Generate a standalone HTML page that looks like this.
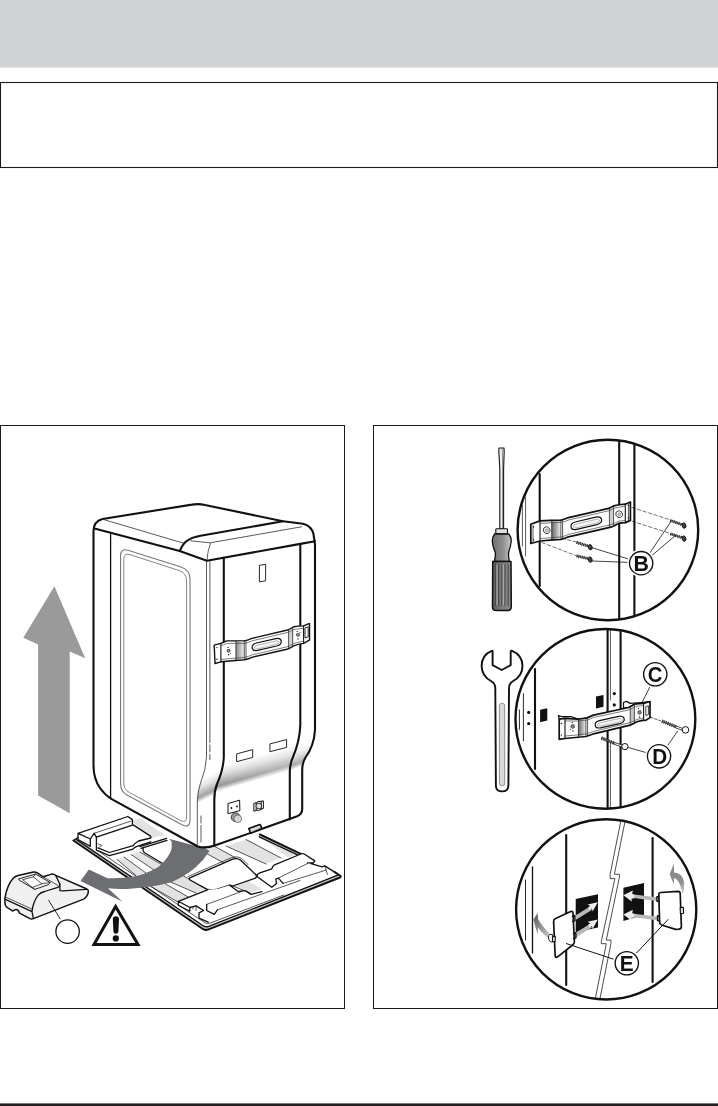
<!DOCTYPE html>
<html>
<head>
<meta charset="utf-8">
<title>Installation</title>
<style>
html,body{margin:0;padding:0;background:#fff;}
body{width:718px;height:1106px;position:relative;overflow:hidden;font-family:"Liberation Sans",sans-serif;}
svg{position:absolute;left:0;top:0;display:block;}
.k{stroke:#111;fill:none;stroke-linecap:round;stroke-linejoin:round;}
.kf{stroke:#111;stroke-linecap:round;stroke-linejoin:round;}
.t2{stroke-width:2.1;}
.t1{stroke-width:1.3;}
.t0{stroke-width:0.7;}
.lbl{font-family:"Liberation Sans",sans-serif;font-weight:bold;fill:#111;text-anchor:start;}
</style>
</head>
<body>
<svg width="718" height="1106" viewBox="0 0 718 1106">
<defs>
<linearGradient id="gsh" x1="0" y1="0" x2="1" y2="0">
<stop offset="0" stop-color="#555"/><stop offset="1" stop-color="#eee"/>
</linearGradient>
</defs>
<!-- header band -->
<rect x="0" y="0" width="718" height="67.5" fill="#d1d2d4"/>
<!-- notice box -->
<rect x="0.5" y="82.5" width="717" height="85" fill="#fff" stroke="#1a1a1a" stroke-width="1.1"/>
<!-- figure frames -->
<rect x="0.5" y="425.5" width="344" height="583" fill="#fff" stroke="#1a1a1a" stroke-width="1"/>
<rect x="373.5" y="425.5" width="344" height="583" fill="#fff" stroke="#1a1a1a" stroke-width="1"/>
<!-- footer rule -->
<rect x="0" y="1103.4" width="718" height="2.6" fill="#231f20"/>

<!--LEFT-FIGURE-->
<g id="leftfig">
<!-- ===== base tray ===== -->
<g id="tray">
<!-- tray floor -->
<path d="M73.4,840.5 L128,817 L259.9,834.5 L340.4,875.7 L340.4,878 L209,930 L204,929 Z" fill="#fff" stroke="none"/>
<!-- light stripes -->
<g fill="#e2e2e2" stroke="none">
<path d="M226,846 L246,839.5 L281,858 L266,864 Z"/>
<path d="M259,835.6 L267,837.6 L298,854 L288,857.5 Z"/>
<path d="M200,850 L214,846 L236,858 L224,863 Z"/>
<path d="M232.7,886 L247.5,880.8 L262,889 L250,893 Z"/>
<path d="M131,821 L140,818.5 L165,835 L152,838 Z"/>
<path d="M117,859.5 L124,857 L146,873 L136,875.5 Z"/>
<path d="M131,854.5 L140,852 L166,867 L154,870 Z"/>
<path d="M150,886 L162,882 L190,898 L178,902 Z"/>
<path d="M166,880 L182,875 L196,883 L206,889 L196,893 Z"/>
</g>
<!-- stripe edge lines -->
<g class="k t0">
<path d="M226,846 L266,864 M246,839.5 L281,858"/>
<path d="M200,850 L224,863 M214,846 L236,858"/>
<path d="M117,859.5 L136,875.5 M124,857 L146,873 M131,854.5 L154,870 M140,852 L166,867"/>
<path d="M150,886 L178,902 M162,882 L190,898 M166,880 L196,893 M182,875 L206,889"/>
<path d="M232.7,886 L250,893"/>
</g>
<!-- far edge (double) -->
<path class="k t2" d="M259.9,834.5 L301.3,854.1"/>
<path class="k t1" d="M259.2,836.8 L298.2,855.2"/>
<!-- left rail + left pad edge -->
<path class="k t1" d="M140,846.6 L166.5,838.4 M141,848.4 L167,840.4"/>
<path class="k t1" d="M143.1,848 L143.1,850.5 Q143.5,852 145,853 L166,865.5"/>
<!-- centre pad -->
<path d="M189.8,877.8 L232.7,859.2 Q237,857.6 240.4,860 L255.7,874.5 Q257.2,876.5 255.5,878.2 L232.7,886 L229.7,885.2 L217.4,889.1 Q211.5,890.6 206.7,889.1 L191.4,880.8 Q188.3,879.2 189.8,877.8 Z" fill="#fff" class="kf t1"/>
<path class="k t0" d="M188,876.6 L231.5,857.6 Q237,855.6 241.5,858.5 L248,864.5"/>
<!-- right block -->
<path d="M257.3,874.8 Q258,873.4 259.9,872.8 L271.8,868.8 Q272.6,866 274.5,864.8 L300.9,854 Q302.6,853.4 304.2,854 L314.8,860.9 L313.5,862.9 L307.6,862.9 L322.1,866.8 L324.8,865.9 L334.7,872.1 L339.6,875.3 L283.7,895 L271.8,887.3 L257.3,876.8 Z" fill="#fff" stroke="none"/>
<path class="k t1" d="M257.3,874.8 Q258,873.4 259.9,872.8 L271.8,868.8 Q272.6,866 274.5,864.8 L300.9,854 Q302.6,853.4 304.2,854 L314.8,860.9 L313.5,862.9 L307.6,862.9 M311,863.6 L322.1,866.8 L324.8,865.9 L334.7,872.1"/>
<path class="k t1" d="M257.3,874.8 L257.3,876.8 L271.8,887.3 L276.5,883.4 L275.8,879.1 L278.4,878.1 L283.1,883.4"/>
<path class="k t0" d="M278.4,878.1 L307.6,863.5 M283.1,883.4 L326.1,870.1 L324.8,865.9 M326.1,870.1 L327.4,874.6"/>
<!-- front block -->
<path d="M178.3,901.3 L207.5,889.8 L217.4,889.1 L229.7,885.2 L238.1,891.4 L245,890.6 L251.1,894.4 L266,890.5 L300,879 L325,872 L330,878 L208.2,923 L199,918.2 L199,912.8 L189.8,911.3 L178.3,905.2 Z" fill="#fff" stroke="none"/>
<path class="k t1" d="M178.3,901.3 L207.5,889.8 M229.7,885.2 L238.1,891.4 L245,890.6 L251.1,894.4 L262,891.6"/>
<path class="k t1" d="M178.3,901.3 L178.3,905.2 L189.8,911.3 L189.8,907.5 Z M189.8,907.5 L196,905.9 L203.6,910.5 L199,912.8 L199,918.2 L208.2,922.2"/>
<path class="k t1" d="M206.7,904.4 L206.7,910.5 L214.3,914.3 L217.4,909.8"/>
<path class="k t0" d="M206.7,904.4 L241.9,891.4 M217.4,909.8 L300,880.5 M193,909 L193,906.7 M196,910.5 L196,906"/>
<!-- rim -->
<path d="M73.4,840.5 L203.2,929.2 Q205.8,930.6 208.6,929.4 L340,877.5 L338.4,874.9 L208.8,926.4 Q206.2,927.4 203.8,926.2 L76.5,839.6 Z" fill="#c6c6c6" stroke="none"/>
<path class="k t2" d="M73.4,840.5 L203.2,929.2 Q205.8,930.6 208.6,929.4 L340,877.5 Q341.5,876.5 340,875.5 L334.7,872.1" style="stroke-width:1.9"/>
<path class="k t1" d="M76.5,839.6 L203.8,926.2 Q206.2,927.4 208.8,926.4 L338.4,874.9"/>
<path class="k t0" d="M82,840 L205.1,922.9 Q207.6,924 210.2,923.1 L283.7,895"/>
<!-- left block -->
<path d="M78,833.3 L127.8,816.5 L132.4,819.6 L132.4,824.2 L133.2,824.9 L150.8,836.4 L150.8,841.8 L137,846.4 L132.4,849.4 L109.4,855.6 L96.4,850.2 L90.3,846.4 L78,839.5 Z" fill="#fff" stroke="none"/>
<path class="k t1" d="M78,833.3 L127.8,816.5 L132.4,819.6 L132.4,824.2 M78,833.3 L78,839.5 L90.3,846.4 L90.3,839 Z M90.3,839 L94.1,833.3 L96.4,837.2 L96.4,850.2 L109.4,855.6 L132.4,849.4 Q135,847 137,846.4 L150.8,841.8"/>
<path class="k t1" d="M96.4,837.2 L133.2,824.9 L150.8,836.4 L150.8,838 L138.5,841 Q135,843 133.2,845.6 L109.4,852.5 L97.9,847.9"/>
<path class="k t0" d="M94.1,833.3 L130.9,821.1 M98,843.9 L101.8,845.5 L99.5,847"/>
<path class="k t1" d="M73.4,840.5 L78,837.5"/>
</g>

<!-- ===== curved arrow ===== -->
<path d="M169,838.8 L171.5,841.3 Q172.5,848 170,853 Q165,862 157.5,867.5 Q147,873.5 135,876.3 Q121,878.8 107.5,878.2 L88.8,869.6 L80.5,880.9 L122.6,901.8 L108,888.2 Q120,889.6 133,888.4 Q153,887 170.5,882.5 Q184,877 195.5,867.5 Q203.5,860.5 209.5,851 L205.3,848.3 L197.8,846.5 Z" fill="#6d6e71" stroke="none"/>

<!-- ===== machine ===== -->
<g id="machine">
<!-- body fill -->
<path d="M93.5,765 L93.5,531 Q93.5,521.5 102.5,519 L192,504.6 Q198.5,503.4 205,505 L283,521.3 L303,523.8 Q311.5,526 313.5,534 L315,545 L315,730 Q314,746 305.5,757.5 Q302.2,763 302.2,770 L302.2,809 Q302.2,814.2 297.2,816.2 L260,829.6 L215.4,845.3 Q206,848.8 197.8,846.5 L111.3,798.9 Q105,795 100,788 Q93.5,779 93.5,765 Z" fill="#fff" stroke="none"/>
<!-- shading on curved lower back -->
<defs>
<linearGradient id="gm1" gradientUnits="userSpaceOnUse" x1="217.6" y1="767" x2="224.2" y2="789.8">
<stop offset="0" stop-color="#fff"/><stop offset="0.35" stop-color="#dcdcdc"/><stop offset="0.78" stop-color="#979797"/><stop offset="1" stop-color="#fff"/>
</linearGradient>
<linearGradient id="gm2" gradientUnits="userSpaceOnUse" x1="205.5" y1="776.6" x2="214.4" y2="795.2">
<stop offset="0" stop-color="#fff"/><stop offset="0.4" stop-color="#dedede"/><stop offset="0.78" stop-color="#a2a2a2"/><stop offset="1" stop-color="#fff"/>
</linearGradient>
<linearGradient id="gm3" gradientUnits="userSpaceOnUse" x1="293.1" y1="748.9" x2="299.9" y2="767.2">
<stop offset="0" stop-color="#fff"/><stop offset="0.4" stop-color="#e0e0e0"/><stop offset="0.78" stop-color="#a8a8a8"/><stop offset="1" stop-color="#fff"/>
</linearGradient>
<linearGradient id="gmf" gradientUnits="userSpaceOnUse" x1="224" y1="0" x2="292" y2="0">
<stop offset="0" stop-color="#fff" stop-opacity="0"/><stop offset="1" stop-color="#fff" stop-opacity="0.3"/>
</linearGradient>
</defs>
<path d="M223.8,735 L223.8,757 Q223.3,770 217,784 Q214.3,791 214.3,800 L214.3,806 L289.8,790 L289.8,772 Q289.8,764 293,757 Q299.8,741 300.3,725 Z" fill="url(#gm1)" stroke="none"/>
<path d="M223.8,735 L223.8,757 Q223.3,770 217,784 Q214.3,791 214.3,800 L214.3,806 L289.8,790 L289.8,772 Q289.8,764 293,757 Q299.8,741 300.3,725 Z" fill="url(#gmf)" stroke="none"/>
<path d="M206.5,745 L206.5,757 Q206,770 200.5,783 Q197.3,792 197.3,803 L197.3,812 L214.3,812 L214.3,800 Q214.3,791 217,784 Q223.3,770 223.8,757 L223.8,745 Z" fill="url(#gm2)" stroke="none"/>
<path d="M300.3,715 L300.3,725 Q299.8,741 293,757 Q289.8,764 289.8,772 L289.8,790 L301.6,788 L301.6,770 Q301.6,763 305.5,757.5 Q314,746 315,730 L315,715 Z" fill="url(#gm3)" stroke="none"/>
<!-- outline -->
<path class="k t2" d="M93.5,765 L93.5,531 Q93.5,521.5 102.5,519 L192,504.6 Q198.5,503.4 205,505 L283,521.3 L303,523.8 Q311.5,526 313.5,534 L315,545 L315,730 Q314,746 305.5,757.5 Q302.2,763 302.2,770 L302.2,809 Q302.2,814.2 297.2,816.2 L260,829.6 L215.4,845.3 Q206,848.8 197.8,846.5 L111.3,798.9 Q105,795 100,788 Q93.5,779 93.5,765 Z"/>
<!-- lid front edge -->
<path class="k t2" d="M94.5,528.5 L179.7,551.1 L206.9,560.8 L300.4,543.9 L315,541.2"/>
<!-- lid bump -->
<path class="k t2" d="M179.7,551.1 Q182.5,544.5 186,541.5 Q191.5,537.3 200.6,535.8 L283,521.3"/>
<!-- thin top lines -->
<path class="k t0" d="M104.5,519.8 L184,543.3 M190.9,540.9 L210.4,542.8 L301.6,526.8 M210.4,543.4 Q207.6,551 206.9,560.4"/>
<!-- vertical edges -->
<path class="k t1" d="M110.6,532.5 L110.6,798.4"/>
<path class="k t0" d="M206.5,561 L206.5,757 Q206,770 200.5,783 Q197.3,792 197.3,803 L197.3,846"/>
<path class="k t0" d="M209.9,561.5 L209.9,762" stroke-dasharray="181 2.5 7 2.5 5 2.5 100"/>
<path class="k t0" d="M201,816 L201,842" stroke-dasharray="7 2.5 40"/>
<path class="k t2" d="M223.8,557.8 L223.8,757 Q223.3,770 217,784 Q214.3,791 214.3,800 L214.3,845.5"/>
<path class="k t2" d="M300.3,544 L300.3,725 Q299.8,741 293,757 Q289.8,764 289.8,772 L289.8,819.5"/>
<!-- door panel -->
<path d="M120.6,556 Q120.6,548 128,550.3 L181,567 Q190,570 190,579 L190,820 Q190,828.5 182.5,825 L127,795 Q120.6,791.5 120.6,784 Z" fill="none" stroke="#777" stroke-width="1.1"/>
<path d="M123.8,559.5 Q123.8,552.5 130,554.6 L179,570.5 Q186.6,573 186.6,581 L186.6,817 Q186.6,823.5 181,820.8 L129.5,792.5 Q123.8,789.5 123.8,783 Z" fill="none" stroke="#777" stroke-width="0.9"/>
<!-- small slot top -->
<path class="k t0" d="M259.8,565.3 L265.6,564.3 L265.6,580.8 L259.8,581.8 Z" style="stroke-width:0.9"/>
<!-- two small rects -->
<path class="k t0" d="M237,753.8 L252.7,749.6 L252.7,757.4 L237,761.6 Z M270.3,743.8 L286.6,739.6 L286.6,747.4 L270.3,751.6 Z" style="stroke-width:0.9"/>
<!-- connector box -->
<path class="k t0" d="M228.4,803.4 L239.6,800.2 L239.9,810.6 L228.4,813.6 Z" style="stroke-width:1"/>
<circle cx="231.4" cy="808" r="0.9" fill="#111"/><circle cx="237" cy="806.4" r="0.9" fill="#111"/>
<!-- knob -->
<circle cx="235.6" cy="817.2" r="4.4" fill="#9a9a9a" stroke="#333" stroke-width="0.9"/>
<circle cx="237.8" cy="818.8" r="3.8" fill="#d6d6d6" stroke="#555" stroke-width="0.7"/>
<!-- valve -->
<path class="k t0" d="M254.2,803.4 L256.2,802.6 L256.2,810.4 L254.2,811.2 Z M261.6,801.4 L263.4,800.8 L263.4,808.4 L261.6,809 Z M256.2,803 L258,801.6 L261.6,801.2 M256.2,810 L258.4,810.6 L261.6,809.2" style="stroke-width:1"/>
<circle cx="258.8" cy="806" r="2.9" fill="#cfcfcf" stroke="#222" stroke-width="0.9"/><circle cx="259.2" cy="806.2" r="1.5" fill="#e8e8e8"/>
<!-- foot -->
<path d="M248.8,828.6 L259.7,824.6 Q261.3,825 261.5,828.6 L250.7,833.2 Z" fill="#d9d9d9" class="kf t1" style="stroke-width:1.6"/>
<!-- bracket -->
<g id="brk1">
<path d="M214.2,645.1 L220.9,643.4 L226.7,640.9 L244.3,640.9 Q248.4,640 251.8,638.4 L288.6,629.7 Q291.4,628.4 293.6,626.7 Q298,626 303.6,625.9 L309.5,623.4 L309.5,640.1 L303.6,643.4 Q298,644.2 293.6,645.9 Q290.4,648 286.9,649.3 L252.6,657.1 Q248.6,659 244.3,659.8 L220.9,661.8 L215,663.5 Z" fill="#fff" class="kf t2" style="stroke-width:1.4"/>
<path d="M235.9,641.6 L244.3,641.6 L244.3,659 L235.9,659.8 Z" fill="url(#gsh)" stroke="none" opacity="0.7"/>
<path d="M288.6,630.6 L292.7,628.6 L292.7,645.8 L288.6,647.8 Z" fill="#d2d2d2" stroke="none"/>
<path class="k t1" d="M220.9,643.4 L220.9,661.8 M303.6,625.9 L303.6,643.4" style="stroke-width:1.1"/>
<path class="k t0" d="M235.9,641 L235.9,660.4 M244.3,640.9 L244.3,659.8 M246,640.6 L246,659.4 M288.6,629.7 L288.6,649 M292.7,627.4 L292.7,646.6"/>
<path class="k t0" d="M220.9,645.8 L226.7,643.4 L244.3,643.4 Q248.4,642.6 251.8,640.9 L288.6,632.2 Q291.6,631 293.6,629.3 L303.6,628.4 M220.9,659.4 L244.3,657.4 Q248.6,656.6 252.6,654.7 L286.9,646.9 Q290.4,645.6 293.6,643.5 L303.6,641" style="stroke:#444"/>
<path d="M252.4,648.8 Q251.2,644.4 256.4,643 L275.8,638.6 Q280.6,637.8 281.2,641 Q281.8,644.6 276.8,646 L257.4,650.4 Q253.2,651.2 252.4,648.8 Z" fill="#fff" class="kf t1" style="stroke-width:1.2"/>
<path d="M254.6,648.2 Q254,646 257.2,645.2 L275.8,640.9 Q279,640.3 279.4,642 Q279.6,643.8 276.2,644.6 L257.6,648.9 Q255.2,649.3 254.6,648.2 Z" fill="#f2f2f2" stroke="#888" stroke-width="0.6"/>
<path d="M305.4,627.8 L308.2,626.8 L308.2,636.8 L305.4,637.8 Z" fill="#fff" class="kf t0" style="stroke-width:0.9"/>
<circle cx="228" cy="647.4" r="0.7" fill="#111"/><path d="M227.2,649.6 L229.8,649.2 L230.2,651.4 L228.4,652.4 L227,651.4 Z" fill="#888" stroke="#111" stroke-width="0.5"/><circle cx="228.6" cy="654.8" r="0.7" fill="#111"/><circle cx="230.6" cy="653.4" r="0.5" fill="#111"/>
<circle cx="297.2" cy="631.6" r="0.7" fill="#111"/><path d="M296.6,633.8 L299.2,633.4 L299.6,635.6 L297.8,636.6 L296.4,635.6 Z" fill="#888" stroke="#111" stroke-width="0.5"/><circle cx="298" cy="639" r="0.7" fill="#111"/><circle cx="300" cy="632.6" r="0.5" fill="#111"/>
<circle cx="217" cy="647.6" r="0.7" fill="#111"/><circle cx="217" cy="659.3" r="0.7" fill="#111"/>
</g>
</g>

<!-- ===== up arrow ===== -->
<path d="M54.4,586.3 L23.3,637.7 L38.1,644.5 L38.1,795.6 L69.7,813.2 L69.7,651.5 L85.2,658.2 Z" fill="#9a9a9a"/>

<!-- ===== small part A ===== -->
<g id="partA">
<path d="M4.9,898.4 Q6,891 8.4,885.9 Q10.5,881 13.2,878.2 Q15.3,876 18.1,875.4 L33.4,872 Q35.5,871.8 36.9,872.7 L43.2,876.8 L51.5,874.1 Q53.6,873.8 55.7,875.4 L86.4,888.7 Q88.6,889.6 88.4,891.4 Q88.2,893.6 87.2,895.4 Q85.8,897.8 83.6,899.1 L33.4,918.6 Q31.4,919.2 29.9,918.6 L19.5,913.1 L18.1,910.3 Q16.6,909.2 15.3,909.6 L12.5,911 L6.3,906.8 Q5,905.2 4.9,902.6 Z" fill="#f0f0f0" class="kf t1" style="stroke-width:1.5"/>
<path class="k t1" d="M4.9,899.1 L32,911.7 L33.4,918.6 M32,911.7 Q32.6,906.4 34.1,902.6 Q35.8,898 38.3,894.9 Q41,892.4 44.6,891.5 L57.8,887.3 Q59.7,886.4 59.9,884.2 L59.9,890.6 L62.7,890.8 L86.4,889.3"/>
<path class="k t1" d="M55.7,875.4 L59.9,884.2"/>
<path class="k t0" d="M6.3,897.4 L32.7,909.4 M43.2,876.8 L57.8,885.4"/>
<path d="M18.8,878.9 L35.5,874.1 L50.1,882.4 L48.7,884.5 L34.8,889.4 L19.5,880.3 Z" fill="#f6f6f6" class="kf t0" style="stroke-width:0.9"/>
<path d="M23,879.6 L33.4,876.8 L41.8,883.8 L32.7,887.3 Z" fill="#fafafa" class="kf t0"/>
<path class="k t0" d="M35.5,874.1 L33.4,876.8 M50.1,882.4 L41.8,883.8 M34.8,889.4 L32.7,887.3"/>
</g>
<path class="k t0" d="M48.7,900.5 L60.2,918.8" style="stroke-width:0.9"/>
<circle cx="67.6" cy="931.6" r="11.7" fill="#fff" stroke="#111" stroke-width="1.3"/>

<!-- ===== warning triangle ===== -->
<path d="M115.6,906.6 L94,944.5 L138,944.5 Z" fill="#fff" stroke="#111" stroke-width="3" stroke-linejoin="miter"/>
<path d="M112.8,919 Q112.8,916.3 115.9,916.3 Q119,916.3 119,919 L118.4,931.4 Q118.2,933.8 115.9,933.8 Q113.6,933.8 113.4,931.4 Z" fill="#111"/>
<circle cx="115.8" cy="938.4" r="3.1" fill="#111"/>
</g>

<!--RIGHT-FIGURE-->
<g id="rightfig">
<defs>
<filter id="gray" x="-10%" y="-10%" width="120%" height="120%" color-interpolation-filters="sRGB"><feColorMatrix type="saturate" values="0"/></filter>
<clipPath id="c1"><circle cx="607.9" cy="530" r="89.6"/></clipPath>
<clipPath id="c2"><circle cx="605.4" cy="718.9" r="89.2"/></clipPath>
<clipPath id="c3"><circle cx="606.2" cy="909.4" r="89.4"/></clipPath>
<linearGradient id="gh1" x1="0" y1="0" x2="1" y2="0">
<stop offset="0" stop-color="#707070"/><stop offset="0.55" stop-color="#8e8e8e"/><stop offset="1" stop-color="#c8c8c8"/>
</linearGradient>
<linearGradient id="gh2" x1="0" y1="0" x2="1" y2="0">
<stop offset="0" stop-color="#5c5c5c"/><stop offset="0.5" stop-color="#7c7c7c"/><stop offset="1" stop-color="#8a8a8a"/>
</linearGradient>
<linearGradient id="gb1" x1="0" y1="0" x2="1" y2="0">
<stop offset="0" stop-color="#4a4a4a"/><stop offset="1" stop-color="#f0f0f0"/>
</linearGradient>
</defs>

<!-- ===== screwdriver ===== -->
<g id="screwdriver">
<path d="M499,448 L504,448 L504.2,451 L503.6,469 L503.6,528.7 L499.8,528.7 L499.8,469 L498.8,451 Z" fill="#f2f2f2" class="kf t1" style="stroke-width:1.1"/>
<path class="k t0" d="M502.3,449 L502.6,468 L502.6,528" style="stroke:#666"/>
<rect x="495.8" y="528.7" width="11.7" height="5.2" rx="0.8" fill="#e0e0e0" class="kf t1" style="stroke-width:1.1"/>
<path d="M494.6,534 L508.8,534 Q511.5,537 511.2,541.5 Q510.5,547 508.6,552.5 Q508.2,557 509.5,561.4 L494.2,561.4 Q495.8,556 495.3,552.5 Q492.5,546 492.3,541.5 Q492.2,537 494.6,534 Z" fill="url(#gh1)" class="kf t1"/>
<path d="M492.7,561.4 L511,561.4 L511.3,606.5 Q511.3,610.6 507.3,610.6 L496.5,610.6 Q492.5,610.6 492.5,606.5 Z" fill="url(#gh2)" class="kf t1" style="stroke-width:1.5"/>
<path d="M495.6,564 L495.6,606 M498.6,564 L498.6,606 M501.8,564 L501.8,606 M505,564 L505,606 M508.2,564 L508.2,606" stroke="#3a3a3a" stroke-width="0.8" fill="none"/>
<path d="M497.1,564.5 L497.1,605.5 M503.4,564.5 L503.4,605.5" stroke="#a8a8a8" stroke-width="1.3" fill="none"/>
</g>

<!-- ===== circle 1 ===== -->
<g id="circ1">
<g clip-path="url(#c1)">
<path class="k t0" d="M522.4,505 L522.4,546 M525.6,497 L525.6,556"/>
<path class="k t2" d="M539.7,474 L539.7,586"/>
<path class="k t2" d="M619.2,438 L619.2,622 M634.4,438 L634.4,622"/>
<!-- dashed guide lines -->
<g class="k t0" stroke-dasharray="3.4 2.4" style="stroke-width:0.6">
<path d="M542,542.6 L576,555.6 M562,538.3 L576.5,542 M632,507.5 L669.5,519.6 M632,521.2 L669.5,533.2"/>
</g>
<!-- bracket -->
<g id="brk2">
<path d="M530.8,524.2 L540,520.9 Q550,520.2 560.9,520.1 Q565,519.4 568.5,517.6 L608.6,508.4 Q611.4,507.4 613.6,505.9 Q619,504.6 625.3,504.2 L630.4,502 L630.4,520.4 L625.3,522.6 Q621.6,522.6 618.6,523.4 Q615.4,525.4 611.9,526.8 L568.5,536.8 Q565,538.6 560.9,539.3 Q550,539.8 540,541 L530.8,543.5 Z" fill="#fff" class="kf t2" style="stroke-width:1.7"/>
<path d="M551.7,521.4 L560.9,521 L560.9,538.4 L551.7,539 Z" fill="url(#gb1)" stroke="none" opacity="0.85"/>
<path d="M609.4,509.4 L613.6,507.6 L613.6,525 L609.4,526.6 Z" fill="#cfcfcf" stroke="none"/>
<path class="k t1" d="M540,520.9 L540,541 M625.3,504.2 L625.3,522.6" style="stroke-width:1.1"/>
<path class="k t0" d="M551.7,521 L551.7,539.4 M560.9,520.4 L560.9,539 M562.6,520 L562.6,538.6 M609.4,509 L609.4,527 M613.6,506.4 L613.6,525.2 M533,525.6 L533,541.6 M628.4,504 L628.4,520"/>
<path class="k t0" d="M540,523.4 Q552,522.6 561,522.4 Q565,521.8 568.5,520 L608.6,510.8 Q612,509.6 613.6,508.4 Q620,506.8 625.3,506.4 M540,538.6 Q552,537.6 561,537 Q565,536.2 568.5,534.4 L611.9,524.4 Q615.4,523 618.6,521.2 L625.3,520.4" style="stroke:#444"/>
<path d="M571.2,527.8 Q570,523.4 575.2,522 L595.8,517.2 Q600.8,516.2 601.6,519.4 Q602.2,523 597,524.6 L576.6,529.4 Q572,530.4 571.2,527.8 Z" fill="#fff" class="kf t1" style="stroke-width:1.2"/>
<path d="M573.4,527.2 Q572.8,524.8 576,524 L595.8,519.4 Q599.2,518.7 599.6,520.4 Q599.8,522.4 596.2,523.2 L576.8,527.8 Q574,528.4 573.4,527.2 Z" fill="#f2f2f2" stroke="#888" stroke-width="0.6"/>
<path d="M546.7,526.6 L549.6,528.6 L550.2,531.6 L548,533.6 L545.4,533.4 L543.4,531 L543.8,528 Z" fill="#fff" stroke="#111" stroke-width="0.8"/><circle cx="546.9" cy="530.4" r="1.5" fill="#ddd" stroke="#555" stroke-width="0.6"/>
<path d="M619.1,510.6 L622,512.6 L622.6,515.6 L620.4,517.6 L617.8,517.4 L615.8,515 L616.2,512 Z" fill="#fff" stroke="#111" stroke-width="0.8"/><circle cx="619.3" cy="514.4" r="1.5" fill="#ddd" stroke="#555" stroke-width="0.6"/>
<circle cx="533.6" cy="527" r="0.7" fill="#111"/><circle cx="533.6" cy="540" r="0.7" fill="#111"/>
<circle cx="628.4" cy="505.6" r="0.7" fill="#111"/><circle cx="628.4" cy="518" r="0.7" fill="#111"/>
</g>
<!-- screws -->
<g id="screws1" stroke="#111" fill="none">
<path d="M576.5,542.4 L588,546 M576.5,555.8 L588,558.6 M670.2,520.4 L682,524.6 M670.2,533.8 L682,537.6" stroke="#111" stroke-width="2.9" stroke-dasharray="1.1 0.7"/>
<path d="M576.5,542.4 L588,546 M576.5,555.8 L588,558.6 M670.2,520.4 L682,524.6 M670.2,533.8 L682,537.6" stroke="#555" stroke-width="1.3"/>
<ellipse cx="590.2" cy="547.2" rx="1.9" ry="2.7" transform="rotate(-18 590.2 547.2)" fill="#444" stroke-width="0.9"/>
<ellipse cx="590.2" cy="559.6" rx="1.9" ry="2.7" transform="rotate(-14 590.2 559.6)" fill="#444" stroke-width="0.9"/>
<ellipse cx="684" cy="525.6" rx="1.9" ry="2.7" transform="rotate(-18 684 525.6)" fill="#444" stroke-width="0.9"/>
<ellipse cx="684" cy="538.6" rx="1.9" ry="2.7" transform="rotate(-18 684 538.6)" fill="#444" stroke-width="0.9"/>
</g>
<!-- leaders -->
<path class="k t0" d="M630.2,559.6 L591.8,547.6 M629.6,562.4 L592,561 M649.2,554 L670.6,522 M651.8,555.6 L675.5,535.4" style="stroke-width:0.8"/>
</g>
<circle cx="607.9" cy="530" r="90.3" fill="none" stroke="#111" stroke-width="2.4"/>
<circle cx="641.15" cy="563.15" r="13.9" fill="#fff"/>
<circle cx="641.15" cy="563.15" r="11.65" fill="#fff" stroke="#111" stroke-width="1.35"/>
<g filter="url(#gray)"><text transform="translate(633.574,570.800) scale(1.06581,1.09740)" x="0" y="0" class="lbl" font-size="20">B</text></g>
</g>

<!-- ===== wrench ===== -->
<g id="wrench">
<path d="M492.2,650.6 Q481.6,655 481.6,666 Q481.8,676 491,681 Q495.2,683.4 495.3,688 L495.9,786 Q496.2,791.4 502.1,791.4 Q508,791.4 508.4,786 L509,688 Q509,683.4 513.2,681 Q522.4,676 522.5,666 Q522.5,655 511.6,650.6 L510.7,651.2 L510.7,665.1 L501.7,670 L492.6,665.1 L492.6,651.2 Z" fill="#fff" stroke="#111" stroke-width="1.9" stroke-linejoin="round"/>
<rect x="499.4" y="703.4" width="5.3" height="82.2" rx="2" fill="#dadada" stroke="#777" stroke-width="0.8"/>
</g>

<!-- ===== circle 2 ===== -->
<g id="circ2">
<g clip-path="url(#c2)">
<path class="k t0" d="M523.4,693.6 L523.4,740.8 M519.4,710 L519.4,729.4" style="stroke-width:0.9"/>
<path class="k t2" d="M535,669 L535,769"/>
<path class="k t2" d="M607.6,628 L607.6,812 M620.6,628 L620.6,812"/>
<path class="k t0" d="M610.4,628 L610.4,700 M610.4,742 L610.4,812"/>
<!-- black squares + dots -->
<path d="M540.1,709.8 L547.3,708.2 L547.3,720.6 L540.1,722.2 Z M596,696.4 L603.5,695 L603.5,706.8 L596,708.4 Z" fill="#111"/>
<circle cx="528.7" cy="712.4" r="1.6" fill="#111"/><circle cx="528.7" cy="723.6" r="1.6" fill="#111"/>
<circle cx="614.3" cy="693.6" r="1.6" fill="#111"/><circle cx="614.3" cy="704.9" r="1.6" fill="#111"/>
<!-- bracket 3D -->
<g id="brk3">
<path d="M559.2,719.2 L558.4,715.6 L562,716.7 L571.7,716.7 L577.6,718.9 L565,718.4 Z" fill="#fff" class="kf t1" style="stroke-width:1.2"/>
<path d="M623.5,708 L623.5,702.5 L626.5,701.4 L630.2,703.4 L641.1,702.5 L649.4,701.7 L643.6,703.6 L634.4,704.4 L628.6,707.6 Z" fill="#fff" class="kf t1" style="stroke-width:1.2"/>
<path d="M559.2,719.2 L565,718.4 L577.6,719.2 Q583,718.8 587.6,717.6 L593.5,715.1 L628.6,707.5 Q631.6,706.2 634.4,704.2 Q639,703.4 643.6,703.4 L650,701.5 L650,717.6 L646.1,720.1 Q641,720.4 636.9,721.8 Q633.6,723.8 630.2,725.1 L593.5,733.8 Q589.6,735.6 585.9,736.5 L565,738.5 L559.2,739.3 Z" fill="#fff" class="kf t2" style="stroke-width:1.7"/>
<path d="M578.4,720.2 L585.9,719.4 L585.9,735.2 L578.4,736 Z" fill="url(#gb1)" stroke="none" opacity="0.85"/>
<path d="M630.2,708.4 L634.4,706.4 L634.4,721.6 L630.2,723.6 Z" fill="#c6c6c6" stroke="none"/>
<path class="k t1" d="M565,718.4 L565,738.5 M643.6,703.4 L643.6,720.2" style="stroke-width:1.1"/>
<path class="k t0" d="M578.4,719.6 L578.4,736.8 M585.9,718.4 L585.9,736 M587.6,718 L587.6,735.6 M630.2,707.6 L630.2,724.6 M634.4,704.8 L634.4,722.6"/>
<path class="k t0" d="M565,721 Q578,721.6 587.6,720 L593.5,717.5 L628.6,710 Q632,708.6 634.4,706.8 Q639,705.8 643.6,705.6 M565,736 Q578,735 585.9,734 L593.5,731.4 L630.2,722.6 Q634,721.2 636.9,719.4 L643.6,718" style="stroke:#444"/>
<path d="M595.4,726.2 Q594.2,722 599.4,720.6 L618.8,716.4 Q623.6,715.6 624.2,718.8 Q624.8,722.2 619.8,723.6 L600.4,727.8 Q596.2,728.6 595.4,726.2 Z" fill="#fff" class="kf t1" style="stroke-width:1.2"/>
<path d="M597.6,725.6 Q597,723.4 600.2,722.6 L618.8,718.6 Q622,718 622.4,719.6 Q622.6,721.4 619.2,722.2 L600.6,726.2 Q598.2,726.6 597.6,725.6 Z" fill="#f2f2f2" stroke="#888" stroke-width="0.6"/>
<path d="M646.2,706.4 L648.4,705.8 L648.4,714.6 L646.2,715.4 Z" fill="#fff" class="kf t0" style="stroke-width:0.8"/>
<circle cx="572.2" cy="722.6" r="0.7" fill="#111"/><path d="M571,725 L574,724.6 L574.6,727.4 L572.6,728.6 L570.8,727.4 Z" fill="#888" stroke="#111" stroke-width="0.5"/><circle cx="573" cy="731" r="0.7" fill="#111"/><circle cx="570.6" cy="729.6" r="0.5" fill="#111"/>
<circle cx="638.6" cy="708.6" r="0.7" fill="#111"/><path d="M638,711 L640.8,710.6 L641.4,713.2 L639.6,714.4 L637.8,713.4 Z" fill="#888" stroke="#111" stroke-width="0.5"/><circle cx="639.6" cy="717" r="0.7" fill="#111"/>
<circle cx="561.4" cy="723.4" r="0.7" fill="#111"/><circle cx="561.4" cy="735.1" r="0.7" fill="#111"/>
</g>
<!-- bolts -->
<g id="bolts">
<path d="M601.3,737.9 L614.5,743.4 M661.9,721.1 L675.8,726.7" stroke="#1a1a1a" stroke-width="3.3" stroke-dasharray="1.2 0.8" fill="none"/>
<path d="M601.3,737.9 L614.5,743.4 M661.9,721.1 L675.8,726.7" stroke="#555" stroke-width="1.7" fill="none"/>
<path d="M614.4,742.4 L622.4,745.2 L621.8,747 L613.8,744.2 Z M675.8,725.8 L683,728.6 L682.4,730.4 L675.2,727.6 Z" fill="#fff" stroke="#111" stroke-width="0.8"/>
<circle cx="624.9" cy="746.6" r="3.1" fill="#fff" stroke="#111" stroke-width="1"/>
<circle cx="685.5" cy="729.9" r="3.3" fill="#fff" stroke="#111" stroke-width="1"/>
</g>
<path class="k t0" d="M650.4,717.2 L660.6,720.8" stroke-dasharray="2.6 1.8"/>
<!-- leaders -->
<path class="k t0" d="M650.6,685.4 L642,702.6 M647.6,753 L628.6,747.6 M666.6,747 L677.6,731.2" style="stroke-width:0.8"/>
</g>
<circle cx="605.4" cy="718.9" r="89.9" fill="none" stroke="#111" stroke-width="2.4"/>
<circle cx="655.25" cy="674.2" r="13.9" fill="#fff"/>
<circle cx="655.25" cy="674.2" r="11.65" fill="#fff" stroke="#111" stroke-width="1.35"/>
<g filter="url(#gray)"><text transform="translate(647.772,681.982) scale(1.00947,1.11581)" x="0" y="0" class="lbl" font-size="20">C</text></g>
<circle cx="659.05" cy="756.35" r="13.9" fill="#fff"/>
<circle cx="659.05" cy="756.35" r="11.65" fill="#fff" stroke="#111" stroke-width="1.35"/>
<g filter="url(#gray)"><text transform="translate(652.315,763.800) scale(1.03541,1.06833)" x="0" y="0" class="lbl" font-size="20">D</text></g>
</g>

<!-- ===== circle 3 ===== -->
<g id="circ3">
<g clip-path="url(#c3)">
<path class="k t0" d="M525.5,880 L525.5,940" style="stroke-width:0.9"/>
<path class="k t1" d="M532.5,867 L532.5,953"/>
<path class="k t2" d="M566.2,835 L566.2,985 M652.6,838 L652.6,982"/>
<!-- break line -->
<path d="M621.2,819 L610.1,874.5 L610.1,878.6 L614.9,878.6 L601.3,941.4 L601.3,943.7 L606.3,943.7 L595,1000 L599.7,1000 L611,943.3 L611,940.1 L606.3,940.1 L619.4,877.2 L619.4,874.3 L614.4,874.3 L625.5,819 Z" fill="#fff" stroke="none"/>
<path d="M621.2,819 L610.1,874.5 L610.1,878.6 L614.9,878.6 L601.3,941.4 L601.3,943.7 L606.3,943.7 L595,1000 M625.5,819 L614.4,874.3 L619.4,874.3 L619.4,877.2 L606.3,940.1 L611,940.1 L611,943.3 L599.7,1000" fill="none" stroke="#111" stroke-width="0.75" stroke-linejoin="miter"/>
<!-- black openings -->
<path d="M575.7,898.9 L598,894.2 L598,927.5 L575.7,932.3 Z M623.4,887.8 L644,883 L644,914.8 L623.4,921.1 Z" fill="#111"/>
<!-- grey arrows -->
<g stroke="none">
<path d="M572.6,917.2 L590,906.6 L591.8,910 L574.4,920.8 Z" fill="#b9b9b9"/>
<path d="M572.6,934.6 L590,924 L591.8,927.4 L574.4,938.2 Z" fill="#b9b9b9"/>
<path d="M587.6,904.4 L597.8,902.2 L592.6,911.6 L592,908.6 L589.6,909.8 L588.2,907.2 L590.4,906 Z" fill="#ededed"/>
<path d="M587.6,921.8 L597.8,919.6 L592.6,929 L592,926 L589.6,927.2 L588.2,924.6 L590.4,923.4 Z" fill="#ededed"/>
<path d="M658.8,897.4 L632,894.2 L631.6,897.8 L658.6,901.2 Z" fill="#b9b9b9"/>
<path d="M658.8,916.8 L632,913.4 L631.6,917 L658.6,920.6 Z" fill="#b9b9b9"/>
<path d="M632.8,890.6 L623.4,895.2 L631.8,901.6 L631.6,898.4 L634,898.6 L634.4,894.6 L632.2,894.2 Z" fill="#ededed"/>
<path d="M632.8,909.8 L623.4,914.4 L631.8,920.8 L631.6,917.6 L634,917.8 L634.4,913.8 L632.2,913.4 Z" fill="#ededed"/>
</g>
<!-- cover plates -->
<path d="M553.6,921.6 Q553.4,919.6 555.6,918.6 L570.6,911.6 Q572.8,910.8 573,913 L574.4,941.4 Q574.4,943.6 572.6,945 L557.6,956.8 Q555.4,958.4 555.2,956 Z" fill="#fff" class="kf t2" style="stroke-width:1.7"/>
<path d="M658.8,894.6 Q658.8,892.6 660.8,892.5 L678,891.4 Q680,891.4 680.2,893.4 L681.4,926.6 Q681.4,929 679,929.2 L675.6,929.4 L661.6,925 Q659.6,924.2 659.6,922.2 Z" fill="#fff" class="kf t2" style="stroke-width:1.7"/>
<path class="k t1" d="M572.4,916.4 L574.8,915.4 L575,920.6 L572.6,921.6 M573.4,933.6 L575.8,932.6 L576,937.8 L573.6,938.8 M659,896.6 L656.8,896.6 L657,901.4 L659.2,901.4 M659.6,916 L657.4,915.8 L657.6,920.6 L659.8,920.8"/>
<path d="M548.2,936.2 Q548.2,934.6 550,934.4 L552.4,934.4 L552.6,941.8 L550.4,941.8 Q548.4,940.6 548.2,936.2 Z" fill="#fff" class="kf t0" style="stroke-width:0.9"/>
<path d="M552.6,936.8 L555.2,936.4 L555.2,941.4 L552.6,941.8 Z" fill="#fff" class="kf t1" style="stroke-width:1.1"/>
<path d="M680.2,907.6 L683.4,907.2 L683.6,913.2 L680.4,913.6 Z" fill="#ddd" class="kf t1" style="stroke-width:1.1"/>
<!-- curl arrows -->
<defs>
<linearGradient id="gca" gradientUnits="userSpaceOnUse" x1="534" y1="920" x2="549" y2="936"><stop offset="0" stop-color="#6a6a6a"/><stop offset="1" stop-color="#c4c4c4"/></linearGradient>
<linearGradient id="gcb" gradientUnits="userSpaceOnUse" x1="670" y1="872" x2="683" y2="893"><stop offset="0" stop-color="#8a8a8a"/><stop offset="0.6" stop-color="#8e8e8e"/><stop offset="1" stop-color="#d0d0d0"/></linearGradient>
</defs>
<path d="M533.4,919.6 L537.6,913 L538.2,919.4 Q542,926 549.4,933.2 L547.4,937.8 Q540.4,931.6 538.2,927.6 L537.6,934.4 Z" fill="url(#gca)" stroke="none"/>
<path d="M669.6,874.2 L673.8,863.8 L674.2,872.5 Q680.1,872.6 683,878.4 Q685.2,884 683.2,893.4 L682,893.4 Q681.2,886 678.4,881.4 Q676.4,878.6 674.2,878 L673.8,884.2 Z" fill="url(#gcb)" stroke="none"/>
<!-- leaders -->
<path class="k t0" d="M614.8,959.6 L566.4,943.6 M635,954.6 L668,919.6" style="stroke-width:1"/>
</g>
<circle cx="606.2" cy="909.4" r="90.1" fill="none" stroke="#111" stroke-width="2.4"/>
<circle cx="626.8" cy="963.25" r="13.9" fill="#fff"/>
<circle cx="626.8" cy="963.25" r="11.65" fill="#fff" stroke="#111" stroke-width="1.35"/>
<g filter="url(#gray)"><text transform="translate(619.805,970.900) scale(1.04272,1.08287)" x="0" y="0" class="lbl" font-size="20">E</text></g>
</g>
</g>

</svg>
</body>
</html>
